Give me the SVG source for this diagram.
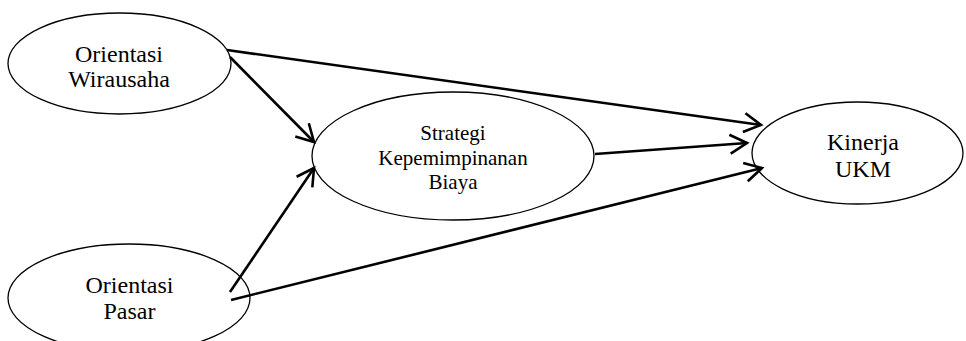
<svg xmlns="http://www.w3.org/2000/svg" width="966" height="341" viewBox="0 0 966 341">
<style>
.node ellipse{fill:#fff;stroke:#000;stroke-width:1.3}
.node text{font-family:"Liberation Serif","Times New Roman",serif;fill:#000;text-anchor:middle}
.big{font-size:24px}
.mid{font-size:21px}
.conn line{stroke:#000;stroke-width:2.6;marker-end:url(#arr)}
</style>
<defs>
<marker id="arr" markerUnits="userSpaceOnUse" viewBox="-22 -12 26 24" markerWidth="26" markerHeight="24" refX="0" refY="0" orient="auto" overflow="visible">
<path d="M-17,-9.5 L0,0 L-17,9.5" fill="none" stroke="#000" stroke-width="2.6" stroke-linejoin="miter"/>
</marker>
</defs>
<rect width="966" height="341" fill="#fff"/>
<g id="node-wirausaha" class="node">
<ellipse cx="119.5" cy="63.5" rx="111.5" ry="50.5"/>
<text class="big" x="119" y="62">Orientasi</text>
<text class="big" x="119" y="87">Wirausaha</text>
</g>
<g id="node-strategi" class="node">
<ellipse cx="453" cy="156" rx="141" ry="64"/>
<text class="mid" x="453" y="140">Strategi</text>
<text class="mid" x="453" y="165">Kepemimpinanan</text>
<text class="mid" x="453" y="189">Biaya</text>
</g>
<g id="node-kinerja" class="node">
<ellipse cx="857.5" cy="153" rx="105.5" ry="51"/>
<text class="big" x="863" y="150">Kinerja</text>
<text class="big" x="863" y="177">UKM</text>
</g>
<g id="node-pasar" class="node">
<ellipse cx="129" cy="298" rx="121" ry="54"/>
<text class="big" x="129.5" y="293">Orientasi</text>
<text class="big" x="129.5" y="319">Pasar</text>
</g>
<g id="connectors" class="conn">
<line x1="227" y1="50" x2="761" y2="125"/>
<line x1="230" y1="57" x2="314" y2="142"/>
<line x1="230" y1="292" x2="314" y2="168"/>
<line x1="231" y1="300" x2="762" y2="168"/>
<line x1="595" y1="154" x2="747" y2="143"/>
</g>
</svg>
